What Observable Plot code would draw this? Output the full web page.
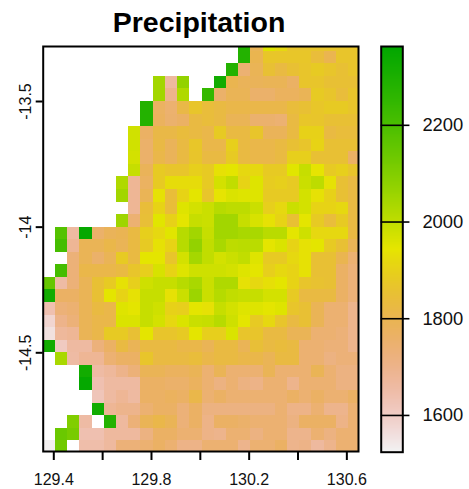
<!DOCTYPE html>
<html>
<head>
<meta charset="utf-8">
<script src="https://cdn.jsdelivr.net/npm/d3@7"></script>
<script src="https://cdn.jsdelivr.net/npm/@observablehq/plot@0.6"></script>
<style>
html,body{margin:0;padding:0;background:#fff}
#wrap{position:relative;width:469px;height:489px;overflow:hidden}
#wrap svg{position:absolute;left:0;top:0;background:transparent}
#title{position:absolute;left:0;width:398px;top:4px;text-align:center;font:bold 28.5px "Liberation Sans",Arial,sans-serif;color:#000;line-height:36px}
</style>
</head>
<body>
<div id="wrap"><div id="title">Precipitation</div></div>
<script>
const n = null;
const r00=[n,n,n,n,n,n,n,n,n,n,n,n,n,n,n,n,2280,1790,1955,1915,1865,1865,1865,1865,1865,1865];
const r01=[n,n,n,n,n,n,n,n,n,n,n,n,n,n,n,n,2280,1800,1870,1870,1870,1870,1838,1800,1865,1865];
const r02=[n,n,n,n,n,n,n,n,n,n,n,n,n,n,n,2280,1740,1790,1850,1825,1850,1865,1880,1865,1850,1865];
const r03=[n,n,n,n,n,n,n,n,n,2045,1665,2070,n,n,2320,1800,1785,1785,1790,1790,1765,1865,1865,1850,1850,1850];
const r04=[n,n,n,n,n,n,n,n,n,2045,1695,2025,n,2245,1755,1790,1790,1755,1755,1775,1775,1790,1880,1865,1838,1865];
const r05=[n,n,n,n,n,n,n,n,2280,1770,1745,1815,1865,1838,1825,1810,1810,1810,1810,1810,1838,1850,1870,1880,1880,1865];
const r06=[n,n,n,n,n,n,n,n,2280,1775,1750,1765,1825,1838,1825,1790,1790,1750,1750,1740,1825,1870,1865,1850,1850,1850];
const r07=[n,n,n,n,n,n,n,1975,1765,1815,1815,1835,1825,1810,1880,1825,1825,1865,1785,1785,1825,1900,1900,1825,1838,1838];
const r08=[n,n,n,n,n,n,n,1975,1755,1820,1785,1825,1870,1810,1810,1893,1825,1810,1810,1825,1850,1865,1905,1850,1850,1850];
const r09=[n,n,n,n,n,n,n,1970,1755,1810,1785,1825,1865,1825,1825,1880,1825,1810,1810,1825,1893,1893,1850,1850,1850,1765];
const r10=[n,n,n,n,n,n,n,1990,1785,1880,1865,1865,1893,1880,1935,1945,1915,1915,1880,1880,1950,1990,1940,1880,1893,1865];
const r11=[n,n,n,n,n,n,2025,1680,1770,1880,1925,1925,1925,1880,1970,1997,1905,1955,1885,1893,1880,1983,2003,1935,1850,1825];
const r12=[n,n,n,n,n,n,2045,1680,1790,1935,1840,1905,1945,1865,1940,1960,1955,1955,1880,1880,1880,1970,1935,1900,1850,1825];
const r13=[n,n,n,n,n,n,n,1680,1840,1905,1840,1955,1970,1983,2012,2003,2003,1983,1893,1915,1983,1970,1905,1905,1915,1825];
const r14=[n,n,n,n,n,n,2050,1740,1845,1950,1900,1945,1990,1983,2045,2045,1990,1965,1935,1905,1850,1945,1880,1838,1880,1825];
const r15=[n,2180,1660,2350,1755,1785,1795,1825,1893,1915,1950,2012,2045,1990,2045,2045,2035,2035,2010,2010,1945,1977,1915,1915,1915,1825];
const r16=[n,2210,1680,1790,1790,1810,1790,1825,1880,1935,1905,2012,2070,1997,2035,2003,2008,2008,1945,1960,1905,1935,1945,1880,1850,1790];
const r17=[n,n,1730,1790,1755,1790,1880,1825,1945,1945,1865,1970,2040,1997,1970,1983,1997,1955,1880,1880,1915,1935,1850,1850,1800,1742];
const r18=[n,2210,1730,1810,1810,1810,1825,1865,1893,1965,1905,1955,1977,1977,1977,1970,1955,1945,1893,1915,1905,1935,1850,1850,1765,1730];
const r19=[2150,1655,1730,1790,1850,1880,1935,1893,1977,1990,1990,2012,2035,1983,2025,2025,1935,1915,1930,1945,1905,1865,1855,1850,1765,1730];
const r20=[2320,1765,1765,1790,1850,1945,1905,1935,1990,1990,1935,1983,2055,1983,2015,1997,1990,1990,1970,1970,1880,1825,1825,1825,1765,1730];
const r21=[1635,1730,1742,1790,1825,1810,1955,1945,1990,1977,1900,1893,1945,1935,1990,1970,1955,1955,1945,1955,1865,1850,1790,1742,1742,1695];
const r22=[1580,1700,1730,1790,1810,1810,1960,1960,1990,1970,1915,1960,1985,1990,2012,1977,1945,1880,1915,1865,1825,1850,1790,1742,1742,1695];
const r23=[1555,1670,1680,1790,1810,1880,1880,1850,1945,1865,1865,1880,1945,1893,1893,1960,1865,1865,1825,1825,1790,1790,1742,1742,1730,1695];
const r24=[2320,1605,1660,1660,1725,1765,1825,1790,1825,1825,1825,1810,1810,1790,1825,1825,1790,1845,1825,1835,1825,1742,1742,1730,1730,1695];
const r25=[n,2035,1655,1680,1680,1740,1765,1765,1865,1825,1825,1825,1838,1810,1825,1825,1810,1810,1790,1825,1825,1742,1742,1715,1730,1730];
const r26=[n,n,n,2320,1655,1670,1700,1730,1790,1790,1775,1775,1790,1742,1790,1742,1742,1742,1790,1742,1742,1742,1790,1742,1715,1715];
const r27=[n,n,n,2350,1635,1660,1660,1660,1765,1765,1755,1755,1775,1742,1715,1742,1715,1705,1742,1742,1695,1742,1742,1742,1715,1715];
const r28=[n,n,n,n,1620,1660,1680,1660,1765,1765,1775,1765,1810,1742,1765,1742,1742,1742,1742,1742,1765,1742,1765,1742,1742,1765];
const r29=[n,n,n,n,2320,1680,1695,1695,1742,1765,1765,1730,1765,1715,1715,1715,1715,1715,1715,1742,1705,1705,1742,1695,1695,1742];
const r30=[n,n,2100,1655,n,2280,1665,1730,1790,1810,1790,1730,1765,1705,1765,1765,1755,1742,1742,1742,1715,1765,1765,1765,1705,1742];
const r31=[n,2140,2115,1635,1635,1665,1665,1665,1715,1765,1765,1742,1742,1705,1695,1742,1742,1715,1742,1742,1695,1695,1742,1715,1742,1742];
const r32=[1530,2130,n,1645,1645,1665,1730,1730,1742,1765,1742,1705,1705,1742,1742,1742,1695,1742,1742,1765,1695,1705,1665,1695,1742,1742];
const rows=[r00,r01,r02,r03,r04,r05,r06,r07,r08,r09,r10,r11,r12,r13,r14,r15,r16,r17,r18,r19,r20,r21,r22,r23,r24,r25,r26,r27,r28,r29,r30,r31,r32];

const xTicks=[129.4,129.6,129.8,130,130.2,130.4,130.6];
const xLabels=[129.4,129.8,130.2,130.6];
const yTicks=[-13.5,-14,-14.5];
const legendTicks=[1600,1800,2000,2200];
const vMin=1524, vMax=2363;
const cellDeg=0.05, lonEdge=129.357, latEdge=-13.25;

const cells=rows.flatMap((row,r)=>row.map((v,c)=>({v,
  lon0:lonEdge+c*cellDeg, lon1:lonEdge+(c+1)*cellDeg,
  lat0:latEdge-r*cellDeg, lat1:latEdge-(r+1)*cellDeg})).filter(d=>d.v!==null));

function hsv(h,s,v){
  const f=(k)=>{const m=(k+h/60)%6;return v-v*s*Math.max(0,Math.min(m,4-m,1));};
  return `rgb(${Math.round(f(5)*255)},${Math.round(f(3)*255)},${Math.round(f(1)*255)})`;
}
// R's terrain.colors, low to high
function terrain(t){
  if(t<0.5){const u=t/0.5;return hsv(60*u,u,0.95-0.05*u);}
  const u=(t-0.5)/0.5;return hsv(60+60*u,1,0.9-0.25*u);
}
const colorOpt={type:"linear",domain:[vMin,vMax],interpolate:terrain};
const font='"Liberation Sans",Arial,sans-serif';

const map=Plot.plot({
  width:469,height:489,
  marginLeft:42.7,marginRight:111,marginTop:46,marginBottom:38,
  style:{background:"transparent",fontFamily:font},
  x:{domain:[129.3566,130.6477],axis:null},
  y:{domain:[-14.8928,-13.2811],axis:null},
  color:colorOpt,
  marks:[
    Plot.rect(cells,{x1:"lon0",x2:"lon1",y1:"lat0",y2:"lat1",fill:"v",shapeRendering:"crispEdges",clip:true}),
    Plot.frame({stroke:"#000",strokeWidth:2}),
    Plot.axisX(xTicks,{anchor:"bottom",tickSize:9,strokeWidth:2,stroke:"#000",tickFormat:()=>""}),
    Plot.text(xLabels,{x:d=>d,frameAnchor:"bottom",dy:33,lineAnchor:"bottom",text:d=>d.toFixed(1),fontSize:16,fill:"#111"}),
    Plot.axisY(yTicks,{anchor:"left",tickSize:7,strokeWidth:2,stroke:"#000",tickFormat:()=>""}),
    Plot.text(yTicks,{y:d=>d,frameAnchor:"left",dx:-12.5,rotate:-90,lineAnchor:"bottom",textAnchor:"middle",text:d=>String(d),fontSize:16,fill:"#111"})
  ]
});
document.getElementById("wrap").appendChild(map);

const ramp=d3.range(vMin,vMax,2);
const legend=Plot.plot({
  width:469,height:489,
  marginLeft:380.7,marginRight:66.7,marginTop:46,marginBottom:37.3,
  style:{background:"transparent",fontFamily:font},
  x:{domain:[0,1],axis:null},
  y:{domain:[vMin,vMax],axis:null},
  color:colorOpt,
  marks:[
    Plot.rect(ramp,{x1:0,x2:1,y1:d=>d,y2:d=>Math.min(d+2,vMax),fill:d=>d,shapeRendering:"crispEdges"}),
    Plot.frame({stroke:"#000",strokeWidth:2}),
    Plot.ruleY(legendTicks,{x1:0,x2:1.33,stroke:"#000",strokeWidth:1.6}),
    Plot.text(legendTicks,{y:d=>d,x:1,dx:60.5,textAnchor:"end",text:d=>String(d),fontSize:18.4,fill:"#111"})
  ]
});
document.getElementById("wrap").appendChild(legend);
</script>
</body>
</html>
